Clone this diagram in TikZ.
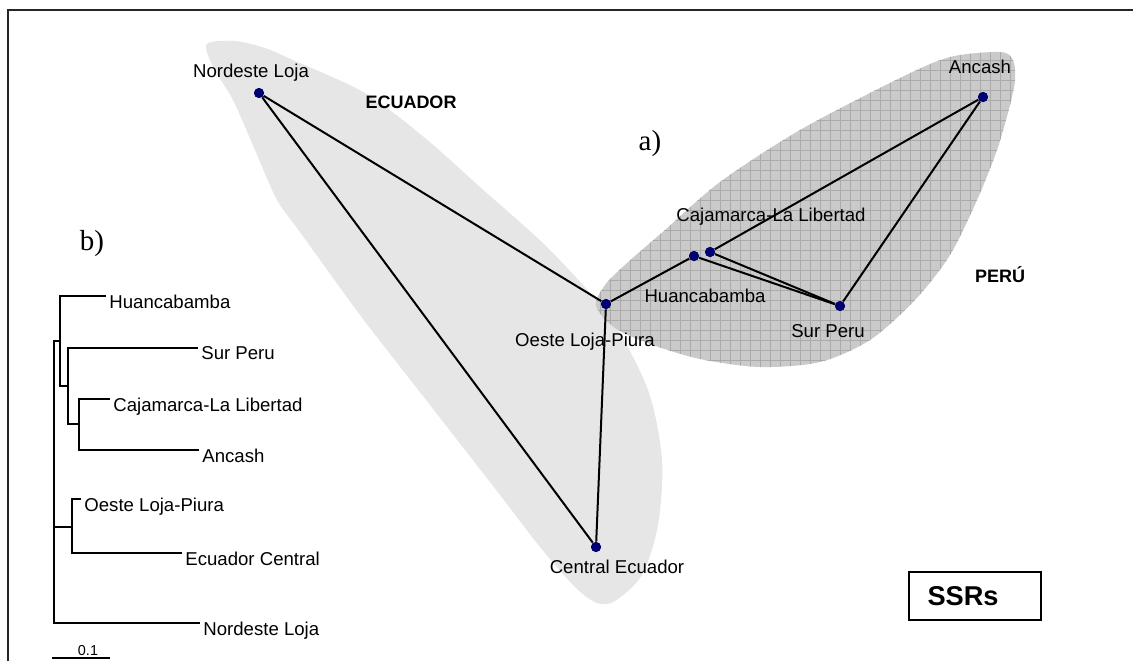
\documentclass[tikz,border=0pt]{standalone}
\usepackage{fontspec}
\setmainfont{Liberation Serif}
\setsansfont{Liberation Sans}
\usetikzlibrary{positioning}
\definecolor{dotblue}{RGB}{0,0,112}
\definecolor{ecuagray}{RGB}{230,230,230}
\definecolor{perugray}{RGB}{202,202,202}
\definecolor{perugrid}{RGB}{170,170,170}

\begin{document}
\begin{tikzpicture}[x=0.5pt, y=-0.5pt,
  pop/.style={circle, fill=dotblue, inner sep=0pt, minimum size=5pt},
  link/.style={line width=1pt, black},
  lbl/.style={font=\sffamily\fontsize{9.3}{11}\selectfont, inner sep=0pt, anchor=base},
  leaf/.style={font=\sffamily\fontsize{9.3}{11}\selectfont, inner sep=0pt, anchor=north west},
  country/.style={font=\sffamily\bfseries\fontsize{9}{11}\selectfont, inner sep=0pt, anchor=base},
  panel/.style={font=\rmfamily\fontsize{14.5}{17}\selectfont, inner sep=0pt, anchor=base},
  branch/.style={line width=0.6pt, black},
  ssrbox/.style={draw, line width=1pt, font=\sffamily\bfseries\fontsize{13.6}{16}\selectfont,
    minimum height=24pt, text width=47pt, inner xsep=9.5pt, align=left}]
\useasboundingbox (0,0) rectangle (1133,661);
\draw[line width=0.6pt, black!85] (8,661) -- (8,10) -- (1133,10);

% population areas
\fill[ecuagray] plot[smooth cycle] coordinates {(207,44) (235,41) (265,48) (293,60) (365,93)
  (425,138) (480,187) (550,250) (610,318) (648,390) (662,460) (658,525) (642,575) (615,601)
  (597,603) (575,587) (540,547) (500,495) (430,405) (360,315) (300,232) (277,200) (255,150)
  (233,100) (213,67)};
\begin{scope}
\clip plot[smooth cycle] coordinates {(596,306) (605,285) (627,263) (665,230) (720,182)
  (800,130) (900,78) (950,57) (1000,52) (1013,60) (1015,80) (1010,105) (997,150) (977,200)
  (950,255) (915,300) (870,340) (820,362) (760,367) (700,359) (650,344) (615,328)};
\fill[perugray] (580,40) rectangle (1030,380);
\draw[perugrid, line width=0.25pt, step=5pt] (580,40) grid (1030,380);
\end{scope}

% network
\node[pop] (nl) at (259,93) {};
\node[pop] (an) at (983,97) {};
\node[pop] (cll) at (710,252) {};
\node[pop] (hu) at (694,256) {};
\node[pop] (olp) at (606,304) {};
\node[pop] (sp) at (840,306) {};
\node[pop] (ce) at (596,547) {};
\draw[link] (nl) -- (olp);
\draw[link] (nl) -- (ce);
\draw[link] (olp) -- (ce);
\draw[link] (olp) -- (hu);
\draw[link] (hu) -- (sp);
\draw[link] (cll) -- (sp);
\draw[link] (cll) -- (an);
\draw[link] (an) -- (sp);
\foreach \p in {nl,an,cll,hu,olp,sp,ce} \node[pop] at (\p) {};

\node[lbl] (nl-t) at (251,77) {Nordeste Loja};
\node[lbl] (an-t) at (980,73) {Ancash};
\node[lbl] (cll-t) at (771,221) {Cajamarca-La Libertad};
\node[lbl] (hu-t) at (705,302) {Huancabamba};
\node[lbl] (olp-t) at (585,346) {Oeste Loja-Piura};
\node[lbl] (sp-t) at (828,337) {Sur Peru};
\node[lbl] (ce-t) at (617,573) {Central Ecuador};
\node[country] (ecu) at (411,108) {ECUADOR};
\node[country] (per) at (1000,282) {PERÚ};
\node[panel] (pa) at (650,150) {a)};
\node[panel] (pb) at (92,250) {b)};
\node[ssrbox] (ssr) at (974.5,596) {SSRs};

% tree
\coordinate (k0) at (54,482);
\coordinate (k1) at (60,341);
\coordinate (k2) at (68,386);
\coordinate (k3) at (79,424);
\coordinate (k4) at (72,527);
\coordinate (e-hu) at (106,296);
\coordinate (e-sp) at (198,348);
\coordinate (e-cll) at (110,399);
\coordinate (e-an) at (199,450);
\coordinate (e-olp) at (81,499);
\coordinate (e-ec) at (182,553);
\coordinate (e-nl) at (200,623);
\draw[branch] (k0) |- (k1);
\draw[branch] (k0) |- (k4);
\draw[branch] (k0) |- (e-nl);
\draw[branch] (k1) |- (e-hu);
\draw[branch] (k1) |- (k2);
\draw[branch] (k2) |- (e-sp);
\draw[branch] (k2) |- (k3);
\draw[branch] (k3) |- (e-cll);
\draw[branch] (k3) |- (e-an);
\draw[branch] (k4) |- (e-olp);
\draw[branch] (k4) |- (e-ec);
\foreach \e/\t in {hu/Huancabamba, sp/Sur Peru, cll/Cajamarca-La Libertad, an/Ancash,
  olp/Oeste Loja-Piura, ec/Ecuador Central, nl/Nordeste Loja}
  \node[leaf] (l-\e) at ([xshift=1.5pt, yshift=0.9pt]e-\e) {\t};
\coordinate (sb-l) at (52,658);
\coordinate (sb-r) at (110,658);
\draw[branch] (sb-l) -- (sb-r);
\node[font=\sffamily\fontsize{7.2}{9}\selectfont, inner sep=0pt, anchor=base] (sb-t) at (88,655) {0.1};
\end{tikzpicture}
\end{document}
